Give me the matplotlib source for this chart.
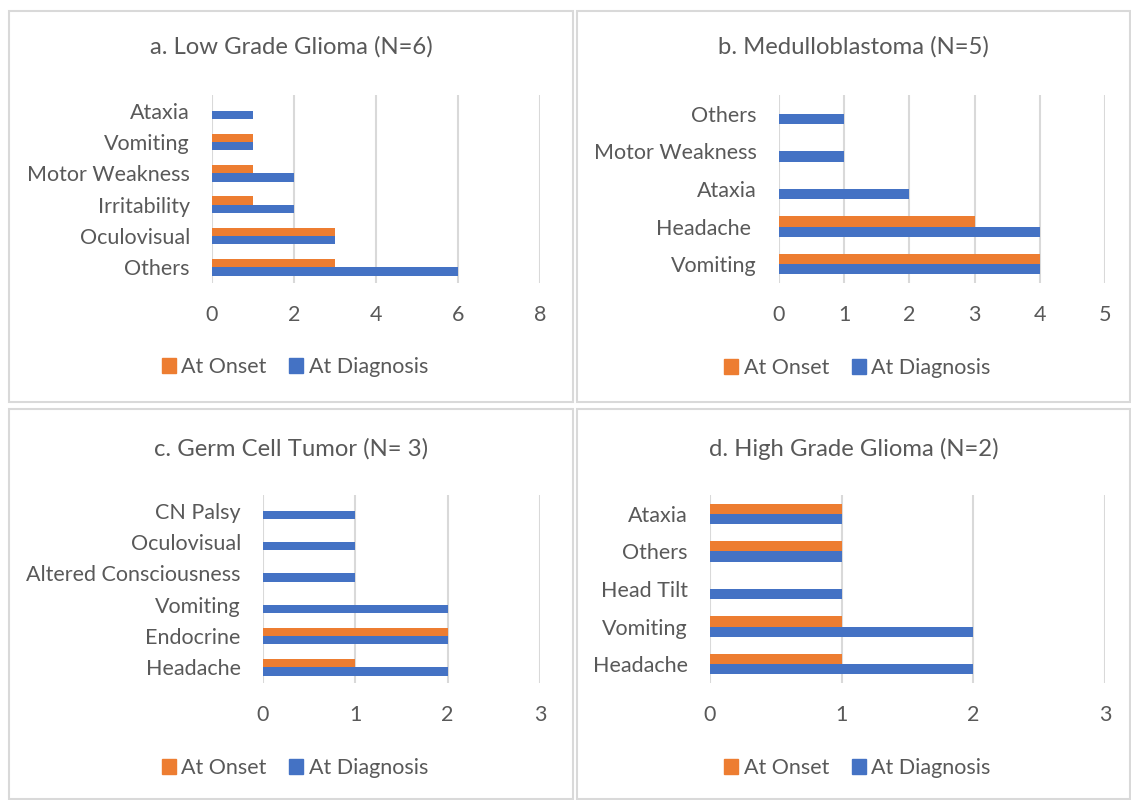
import matplotlib
matplotlib.use("Agg")
from matplotlib import pyplot as plt
from matplotlib.patches import Rectangle, Patch
import numpy as np

# data, categories listed bottom to top
a_labels = ["Others", "Oculovisual", "Irritability", "Motor Weakness", "Vomiting", "Ataxia"]
a_onset = [3, 3, 1, 1, 1, 0]
a_diag = [6, 3, 2, 2, 1, 1]
a_ticks = [0, 2, 4, 6, 8]

b_labels = ["Vomiting", "Headache ", "Ataxia", "Motor Weakness", "Others"]
b_onset = [4, 3, 0, 0, 0]
b_diag = [4, 4, 2, 1, 1]
b_ticks = [0, 1, 2, 3, 4, 5]

c_labels = ["Headache", "Endocrine", "Vomiting", "Altered Consciousness", "Oculovisual", "CN Palsy"]
c_onset = [1, 2, 0, 0, 0, 0]
c_diag = [2, 2, 2, 1, 1, 1]
c_ticks = [0, 1, 2, 3]

d_labels = ["Headache", "Vomiting", "Head Tilt", "Others", "Ataxia"]
d_onset = [1, 1, 0, 1, 1]
d_diag = [2, 2, 1, 1, 1]
d_ticks = [0, 1, 2, 3]

titles = ["a. Low Grade Glioma (N=6)", "b. Medulloblastoma (N=5)",
          "c. Germ Cell Tumor (N= 3)", "d. High Grade Glioma (N=2)"]
series = ["At Onset", "At Diagnosis"]

ORANGE = "#ED7D31"
BLUE = "#4472C4"
GRID = "#D9D9D9"
TXT = "#595959"

plt.rcParams["font.family"] = ["Lato", "DejaVu Sans"]

W, H = 1131, 800
fig = plt.figure(figsize=(W / 100, H / 100), dpi=100)


def px(x0, y0, x1, y1):
    # pixel box (top-left origin) -> figure fraction rect
    return [x0 / W, 1 - y1 / H, (x1 - x0) / W, (y1 - y0) / H]


def draw_panel(box, axbox, title, title_y, leg_y, labels, onset, diag, ticks):
    # panel border
    x0, y0, x1, y1 = box
    fig.add_artist(Rectangle((x0 / W, 1 - y1 / H), (x1 - x0) / W, (y1 - y0) / H,
                             transform=fig.transFigure, fill=False,
                             edgecolor=GRID, linewidth=1.5))
    ax = fig.add_axes(px(*axbox))
    y = np.arange(len(labels))
    h = 0.27
    ax.barh(y + h / 2, onset, h, color=ORANGE, label=series[0], zorder=3)
    ax.barh(y - h / 2, diag, h, color=BLUE, label=series[1], zorder=3)
    ax.set_ylim(-0.5, len(labels) - 0.5)
    ax.set_xlim(ticks[0], ticks[-1])
    ax.set_xticks(ticks)
    ax.set_yticks(y)
    ax.set_yticklabels(labels)
    for s in ax.spines.values():
        s.set_visible(False)
    ax.grid(axis="x", color=GRID, linewidth=1.5, zorder=0)
    ax.set_axisbelow(True)
    ax.tick_params(axis="both", length=0, labelsize=15.5, labelcolor=TXT)
    ax.tick_params(axis="x", pad=16)
    ax.tick_params(axis="y", pad=16)
    cx = (x0 + x1) / 2 / W
    fig.text(cx, 1 - title_y / H, title, ha="center", va="center", fontsize=17.2, color=TXT)
    handles = [Patch(color=ORANGE), Patch(color=BLUE)]
    fig.legend(handles, series, loc="center", bbox_to_anchor=(cx + 4 / W, 1 - leg_y / H),
               ncol=2, frameon=False, fontsize=15.5, labelcolor=TXT,
               handlelength=0.65, handleheight=0.65, handletextpad=0.25, columnspacing=1.05)
    return ax


draw_panel((9, 11, 573, 402), (212, 95, 540, 283), titles[0], 47, 367,
           a_labels, a_onset, a_diag, a_ticks)
draw_panel((577, 11, 1130, 402), (779, 95, 1105, 283), titles[1], 47, 368,
           b_labels, b_onset, b_diag, b_ticks)
draw_panel((9, 409, 573, 799), (263, 495, 540, 683), titles[2], 449, 768,
           c_labels, c_onset, c_diag, c_ticks)
draw_panel((577, 409, 1130, 799), (710, 495, 1105, 683), titles[3], 449, 768,
           d_labels, d_onset, d_diag, d_ticks)

plt.savefig("out.png", dpi=100)
